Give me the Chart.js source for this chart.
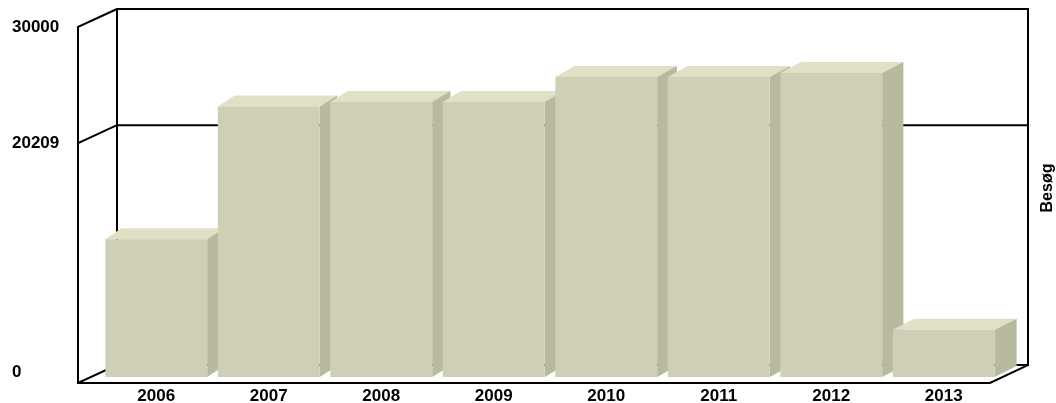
<!DOCTYPE html>
<html>
<head>
<meta charset="utf-8">
<script src="https://cdn.jsdelivr.net/npm/chart.js@4.4.0/dist/chart.umd.min.js"></script>
<style>
  html, body { margin: 0; padding: 0; background: #fff; }
  #wrap { width: 1056px; height: 403px; }
</style>
</head>
<body>
<div id="wrap"><canvas id="visitChart"></canvas></div>
<script>
// Visits per year
const years = ['2006', '2007', '2008', '2009', '2010', '2011', '2012', '2013'];
const visits = [11600, 22800, 23170, 23170, 25280, 25280, 25620, 3990];
const yTicks = [0, 20209, 30000];
const yTitle = 'Besøg';

const FRONT = '#cecfb4';
const TOP = '#e0e0c6';
const SIDE = '#b9b99e';

// 3D box: frame lines, bar tops / sides, rotated title
const box3d = {
  id: 'box3d',
  beforeDatasetsDraw(chart) {
    const { ctx, chartArea: a, scales: { y } } = chart;
    const fx = a.left - 22, fy = 6;          // front plane offset
    const bx = a.left + 17, by = -12;        // back plane offset
    const frx = a.right - 10, brx = a.right + 28;
    ctx.save();
    ctx.strokeStyle = '#000';
    ctx.lineWidth = 2;
    ctx.lineCap = 'square';
    ctx.beginPath();
    // back wall
    const yTop = y.getPixelForValue(30000), y0 = y.getPixelForValue(0);
    ctx.moveTo(bx, y0 + by); ctx.lineTo(bx, yTop + by);
    ctx.lineTo(brx, yTop + by); ctx.lineTo(brx, y0 + by);
    ctx.lineTo(bx, y0 + by);
    // grid lines on back wall + left wall diagonals
    yTicks.forEach(v => {
      const p = y.getPixelForValue(v);
      ctx.moveTo(bx, p + by); ctx.lineTo(brx, p + by);
      ctx.moveTo(fx, p + fy); ctx.lineTo(bx, p + by);
    });
    // front left axis and floor
    ctx.moveTo(fx, yTop + fy); ctx.lineTo(fx, y0 + fy);
    ctx.lineTo(frx, y0 + fy); ctx.lineTo(brx, y0 + by);
    ctx.stroke();

    // top and side faces of the bars (fronts drawn by chart.js over them)
    const meta = chart.getDatasetMeta(0);
    meta.data.forEach(bar => {
      const l = bar.x - bar.width / 2, r = bar.x + bar.width / 2;
      const dy = -11;
      const dxl = 16 + 6 * (l - a.left) / (a.right - a.left);
      const dxr = 16 + 6 * (r - a.left) / (a.right - a.left);
      ctx.fillStyle = TOP;
      ctx.beginPath();
      ctx.moveTo(l, bar.y); ctx.lineTo(l + dxl, bar.y + dy);
      ctx.lineTo(r + dxr, bar.y + dy); ctx.lineTo(r, bar.y);
      ctx.closePath(); ctx.fill();
      ctx.fillStyle = SIDE;
      ctx.beginPath();
      ctx.moveTo(r, bar.y); ctx.lineTo(r + dxr, bar.y + dy);
      ctx.lineTo(r + dxr, bar.base + dy); ctx.lineTo(r, bar.base);
      ctx.closePath(); ctx.fill();
    });
    ctx.restore();
  },
  afterDraw(chart) {
    const { ctx } = chart;
    ctx.save();
    ctx.translate(1048, 188);
    ctx.rotate(-Math.PI / 2);
    ctx.font = 'bold 16px "Liberation Sans", Arial, sans-serif';
    ctx.fillStyle = '#000';
    ctx.textAlign = 'center';
    ctx.textBaseline = 'middle';
    ctx.fillText(yTitle, 0, 0);
    ctx.restore();
  }
};

new Chart(document.getElementById('visitChart'), {
  type: 'bar',
  data: {
    labels: years,
    datasets: [{
      label: yTitle,
      data: visits,
      backgroundColor: FRONT,
      borderWidth: 0,
      categoryPercentage: 1,
      barPercentage: 0.905
    }]
  },
  options: {
    responsive: true,
    maintainAspectRatio: false,
    animation: false,
    layout: { padding: { left: 12, right: 56, top: 21, bottom: 0 } },
    plugins: { legend: { display: false }, tooltip: { enabled: false } },
    scales: {
      x: {
        grid: { display: false },
        border: { display: false },
        afterFit: s => { s.height = 26; },
        ticks: {
          color: '#000',
          padding: 1,
          maxRotation: 0,
          font: { family: '"Liberation Sans", Arial, sans-serif', size: 17, weight: 'bold' }
        }
      },
      y: {
        min: 0,
        max: 30000,
        grid: { display: false },
        border: { display: false },
        afterFit: s => { s.width = 88; },
        afterBuildTicks: s => { s.ticks = yTicks.map(v => ({ value: v })); },
        ticks: {
          color: '#000',
          crossAlign: 'far',
          labelOffset: 6,
          callback: v => v === 0 ? ['0', ''] : String(v),
          font: { family: '"Liberation Sans", Arial, sans-serif', size: 17, weight: 'bold' }
        }
      }
    }
  },
  plugins: [box3d]
});
</script>
</body>
</html>
